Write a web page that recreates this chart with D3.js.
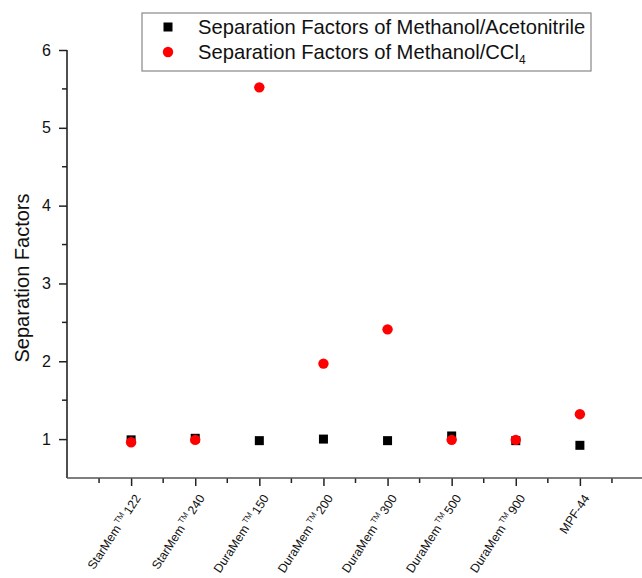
<!DOCTYPE html>
<html>
<head>
<meta charset="utf-8">
<script src="https://cdn.jsdelivr.net/npm/d3@7"></script>
<style>
  body { margin: 0; background: #fff; }
  svg { display: block; font-family: "Liberation Sans", Arial, sans-serif; }
</style>
</head>
<body>
<svg id="chart" width="642" height="578"></svg>
<script>
// membranes (x categories)
var membranes = ["StarMem", "StarMem", "DuraMem", "DuraMem", "DuraMem", "DuraMem", "DuraMem", "MPF-44"];
var grades = ["122", "240", "150", "200", "300", "500", "900", ""];
// separation factors
var acetonitrile = [0.99, 1.01, 0.98, 1.00, 0.98, 1.04, 0.98, 0.92];
var ccl4 = [0.96, 0.99, 5.52, 1.97, 2.41, 0.99, 0.99, 1.32];
var yTicks = [1, 2, 3, 4, 5, 6];

var svg = d3.select("#chart");

// echelles
var x = d3.scaleLinear().domain([0, 9]).range([67, 644]);
var y = d3.scaleLinear().domain([0.5, 6]).range([478, 50]);

var axisColor = "#222";

// axe y
var yAxis = svg.append("g")
    .attr("transform", "translate(" + x(0) + ",0)")
    .call(d3.axisLeft(y).tickValues(yTicks).tickSize(8).tickPadding(8).tickFormat(d3.format("d")));
yAxis.select(".domain").remove();
yAxis.selectAll(".tick line").attr("stroke", axisColor).attr("stroke-width", 1.5);
yAxis.selectAll(".tick text").attr("font-size", 16).attr("fill", "#111")
    .style("font-family", "'Liberation Sans', Arial, sans-serif");

// petites graduations y
svg.append("g").selectAll("line")
    .data(d3.range(1.5, 6, 1))
    .enter().append("line")
    .attr("x1", x(0) - 5).attr("x2", x(0))
    .attr("y1", d => y(d)).attr("y2", d => y(d))
    .attr("stroke", axisColor).attr("stroke-width", 1.5);

svg.append("line")
    .attr("x1", x(0)).attr("x2", x(0))
    .attr("y1", y(6)).attr("y2", y(0.5))
    .attr("stroke", axisColor).attr("stroke-width", 1.6);

// axe x
var xAxis = svg.append("g")
    .attr("transform", "translate(0," + y(0.5) + ")")
    .call(d3.axisBottom(x).tickValues(d3.range(1, 9)).tickSize(8).tickFormat(""));
xAxis.select(".domain").remove();
xAxis.selectAll(".tick line").attr("stroke", axisColor).attr("stroke-width", 1.5);

svg.append("g").selectAll("line")
    .data(d3.range(0.5, 9, 1))
    .enter().append("line")
    .attr("x1", d => x(d)).attr("x2", d => x(d))
    .attr("y1", y(0.5)).attr("y2", y(0.5) + 5)
    .attr("stroke", axisColor).attr("stroke-width", 1.5);

svg.append("line")
    .attr("x1", x(0)).attr("x2", 642)
    .attr("y1", y(0.5)).attr("y2", y(0.5))
    .attr("stroke", "#555").attr("stroke-width", 1.6);

// etiquettes x tournees
var labels = svg.append("g").selectAll("text")
    .data(membranes)
    .enter().append("text")
    .attr("font-size", 12.3)
    .attr("fill", "#111")
    .attr("text-anchor", "end")
    .attr("transform", (d, i) => "translate(" + (x(i + 1) + 10) + "," + (y(0.5) + 20) + ") rotate(-57)");

labels.each(function(d, i) {
    var t = d3.select(this);
    t.append("tspan").text(d);
    if (grades[i] !== "") {
        t.append("tspan").attr("font-size", 8).attr("dy", -5).text(" TM ");
        t.append("tspan").attr("dy", 5).text(" " + grades[i]);
    }
});

// titre y
svg.append("text")
    .attr("transform", "translate(29,278) rotate(-90)")
    .attr("text-anchor", "middle")
    .attr("font-size", 20)
    .attr("fill", "#111")
    .text("Separation Factors");

// points
var sq = 9;
svg.append("g").selectAll("rect")
    .data(acetonitrile)
    .enter().append("rect")
    .attr("x", (d, i) => x(i + 1) - sq / 2)
    .attr("y", d => y(d) - sq / 2)
    .attr("width", sq).attr("height", sq)
    .attr("fill", "#000");

svg.append("g").selectAll("circle")
    .data(ccl4)
    .enter().append("circle")
    .attr("cx", (d, i) => x(i + 1))
    .attr("cy", d => y(d))
    .attr("r", 5.2)
    .attr("fill", "#f00");

// legende
var legend = svg.append("g");
legend.append("rect")
    .attr("x", 142).attr("y", 13).attr("width", 449).attr("height", 58)
    .attr("fill", "#fff").attr("stroke", "#888").attr("stroke-width", 1.2);
legend.append("rect")
    .attr("x", 168 - sq / 2).attr("y", 27 - sq / 2).attr("width", sq).attr("height", sq)
    .attr("fill", "#000");
legend.append("circle")
    .attr("cx", 168).attr("cy", 52).attr("r", 5.2).attr("fill", "#f00");
legend.append("text")
    .attr("x", 198).attr("y", 34)
    .attr("font-size", 20.2).attr("fill", "#111")
    .text("Separation Factors of Methanol/Acetonitrile");
var t2 = legend.append("text")
    .attr("x", 198).attr("y", 59)
    .attr("font-size", 20.2).attr("fill", "#111");
t2.append("tspan").text("Separation Factors of Methanol/CCl");
t2.append("tspan").attr("font-size", 12).attr("dy", 5).text("4");
</script>
</body>
</html>
